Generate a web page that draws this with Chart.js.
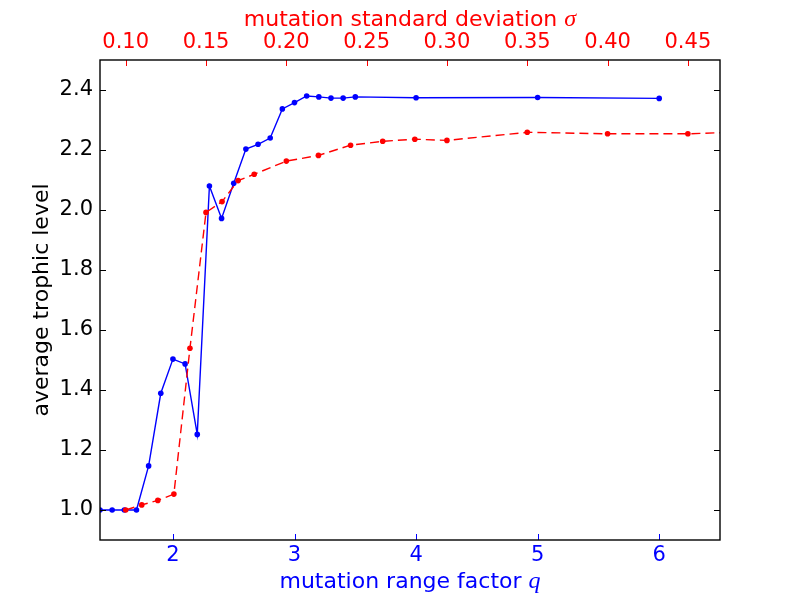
<!DOCTYPE html>
<html>
<head>
<meta charset="utf-8">
<script src="https://cdn.jsdelivr.net/npm/chart.js@4.4.1/dist/chart.umd.min.js"></script>
<style>
  html, body { margin: 0; padding: 0; background: #fff; }
  #wrap { width: 800px; height: 600px; }
</style>
</head>
<body>
<div id="wrap"><canvas id="chart"></canvas></div>
<script>
// blue series, bottom axis (mutation range factor q)
const qValues = [1.4, 1.5, 1.6, 1.7, 1.8, 1.9, 2.0, 2.1, 2.2, 2.3, 2.4, 2.5, 2.6, 2.7, 2.8, 2.9, 3.0, 3.1, 3.2, 3.3, 3.4, 3.5, 4.0, 5.0, 6.0];
const qLevels = [1.0, 1.0, 1.0, 1.0, 1.147, 1.389, 1.503, 1.487, 1.252, 2.08, 1.972, 2.089, 2.203, 2.219, 2.24, 2.337, 2.358, 2.38, 2.377, 2.373, 2.373, 2.377, 2.374, 2.375, 2.372];

// red series, top axis (mutation standard deviation sigma)
const sigmaValues = [0.10, 0.11, 0.12, 0.13, 0.14, 0.15, 0.16, 0.17, 0.18, 0.20, 0.22, 0.24, 0.26, 0.28, 0.30, 0.35, 0.40, 0.45, 0.50];
const sigmaLevels = [1.0, 1.017, 1.032, 1.053, 1.539, 1.992, 2.028, 2.098, 2.119, 2.163, 2.182, 2.216, 2.229, 2.236, 2.232, 2.259, 2.254, 2.254, 2.263];

const qTicks = [2, 3, 4, 5, 6];
const sigmaTicks = [0.10, 0.15, 0.20, 0.25, 0.30, 0.35, 0.40, 0.45];
const levelTicks = [1.0, 1.2, 1.4, 1.6, 1.8, 2.0, 2.2, 2.4];

const BLUE = "#0000ff";
const RED = "#ff0000";
const FONT = "DejaVu Sans";
const FS = 21;      // tick labels
const TFS = 22;     // axis titles

function drawParts(ctx, parts, cx, cy) {
  let total = 0;
  parts.forEach(p => { ctx.font = p.font; total += ctx.measureText(p.text).width; });
  let x = cx - total / 2;
  ctx.textAlign = "left";
  ctx.textBaseline = "middle";
  parts.forEach(p => {
    ctx.font = p.font;
    ctx.fillText(p.text, x, cy);
    x += ctx.measureText(p.text).width;
  });
}

// box, inward ticks and axis titles (matplotlib style)
const framePlugin = {
  id: "frame",
  afterDatasetsDraw(chart) {
    const { ctx, chartArea: a, scales } = chart;
    const tl = 6;
    ctx.save();
    ctx.lineWidth = 1;

    ctx.strokeStyle = BLUE;
    qTicks.forEach(v => {
      const px = Math.round(scales.x.getPixelForValue(v)) + 0.5;
      ctx.beginPath(); ctx.moveTo(px, a.bottom); ctx.lineTo(px, a.bottom - tl); ctx.stroke();
    });
    ctx.strokeStyle = RED;
    sigmaTicks.forEach(v => {
      const px = Math.round(scales.x2.getPixelForValue(v)) + 0.5;
      ctx.beginPath(); ctx.moveTo(px, a.top); ctx.lineTo(px, a.top + tl); ctx.stroke();
    });
    ctx.strokeStyle = "#000";
    levelTicks.forEach(v => {
      const py = Math.round(scales.y.getPixelForValue(v)) + 0.5;
      ctx.beginPath(); ctx.moveTo(a.left, py); ctx.lineTo(a.left + tl, py); ctx.stroke();
      ctx.beginPath(); ctx.moveTo(a.right, py); ctx.lineTo(a.right - tl, py); ctx.stroke();
    });

    ctx.lineWidth = 1.4;
    ctx.strokeStyle = "#000";
    ctx.strokeRect(a.left, a.top, a.right - a.left, a.bottom - a.top);

    const base = TFS + "px '" + FONT + "'";
    const math = "italic " + (TFS + 2) + "px 'Liberation Serif'";
    const cx = (a.left + a.right) / 2;

    ctx.fillStyle = BLUE;
    drawParts(ctx, [{ text: "mutation range factor ", font: base }, { text: "q", font: math }], cx, a.bottom + 42);

    ctx.fillStyle = RED;
    drawParts(ctx, [{ text: "mutation standard deviation ", font: base }, { text: "σ", font: math }], cx, a.top - 40);

    ctx.fillStyle = "#000";
    ctx.translate(a.left - 58, (a.top + a.bottom) / 2);
    ctx.rotate(-Math.PI / 2);
    drawParts(ctx, [{ text: "average trophic level", font: base }], 0, 0);
    ctx.restore();
  }
};

function axisBase(color, pad) {
  return {
    type: "linear",
    grid: { display: false, drawTicks: false },
    border: { display: false },
    ticks: { color: color, font: { family: FONT, size: FS }, padding: pad, autoSkip: false, maxRotation: 0 }
  };
}

const xAxis = axisBase(BLUE, 3);
xAxis.position = "bottom";
xAxis.min = 1.4;
xAxis.max = 6.5;
xAxis.afterBuildTicks = s => { s.ticks = qTicks.map(v => ({ value: v })); };
xAxis.ticks.callback = v => String(v);
xAxis.afterFit = s => { s.height = 60; };

const x2Axis = axisBase(RED, 5);
x2Axis.position = "top";
x2Axis.min = 0.084;
x2Axis.max = 0.47;
x2Axis.afterBuildTicks = s => { s.ticks = sigmaTicks.map(v => ({ value: v })); };
x2Axis.ticks.callback = v => Number(v).toFixed(2);
x2Axis.afterFit = s => { s.height = 60; };

const yAxis = axisBase("#000", 7);
yAxis.position = "left";
yAxis.min = 0.9;
yAxis.max = 2.5;
yAxis.afterBuildTicks = s => { s.ticks = levelTicks.map(v => ({ value: v })); };
yAxis.ticks.callback = v => Number(v).toFixed(1);
yAxis.afterFit = s => { s.width = 100; };

new Chart(document.getElementById("chart"), {
  type: "line",
  data: {
    datasets: [
      {
        label: "sigma",
        xAxisID: "x2",
        yAxisID: "y",
        data: sigmaValues.map((v, i) => ({ x: v, y: sigmaLevels[i] })),
        borderColor: RED,
        backgroundColor: RED,
        borderWidth: 1.4,
        borderDash: [9, 5],
        pointRadius: 2.8,
        pointBorderWidth: 0,
        tension: 0
      },
      {
        label: "q",
        xAxisID: "x",
        yAxisID: "y",
        data: qValues.map((v, i) => ({ x: v, y: qLevels[i] })),
        borderColor: BLUE,
        backgroundColor: BLUE,
        borderWidth: 1.4,
        pointRadius: 2.8,
        pointBorderWidth: 0,
        tension: 0
      }
    ]
  },
  options: {
    responsive: true,
    maintainAspectRatio: false,
    animation: false,
    layout: { padding: { left: 0, right: 80, top: 0, bottom: 0 } },
    plugins: { legend: { display: false }, tooltip: { enabled: false } },
    scales: { x: xAxis, x2: x2Axis, y: yAxis }
  },
  plugins: [framePlugin]
});
</script>
</body>
</html>
